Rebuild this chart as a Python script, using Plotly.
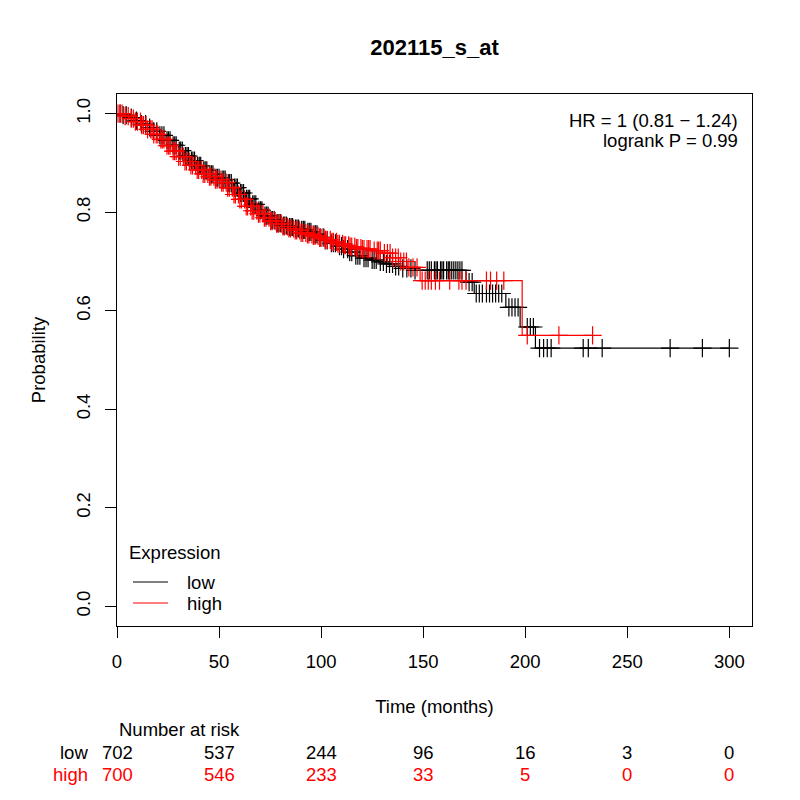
import numpy as np
import plotly.graph_objects as go

# Kaplan-Meier steps (months, survival probability)
low_times = [0, 3, 6, 9, 12, 15, 18, 21, 24, 27, 30, 33, 36, 39, 42, 45, 48, 51, 54, 57,
             60, 63, 66, 69, 72, 75, 78, 81, 84, 87, 90, 93, 96, 99, 102, 105, 108, 111, 114, 117,
             120, 124, 128, 132, 136, 140, 146, 171, 175, 190.5, 197.5, 205]
low_surv = [1.0, 0.997, 0.992, 0.986, 0.979, 0.972, 0.964, 0.956, 0.946, 0.936,
            0.925, 0.914, 0.905, 0.894, 0.885, 0.877, 0.870, 0.866, 0.859, 0.850,
            0.839, 0.827, 0.816, 0.804, 0.793, 0.784, 0.778, 0.773, 0.770, 0.767,
            0.764, 0.760, 0.755, 0.749, 0.743, 0.737, 0.731, 0.725, 0.719, 0.712,
            0.707, 0.703, 0.699, 0.695, 0.690, 0.686, 0.682, 0.658, 0.635, 0.607, 0.567, 0.524]
low_censor = [1.5, 3, 4.5, 7, 9.5, 12, 14, 16, 18, 19.5, 21, 23, 24.5, 26, 27.5, 29, 30.5, 32,
              33.5, 35, 36.5, 38, 39.5, 41, 42.5, 44, 45.5, 47, 48.5, 50, 51.5, 53, 54.5, 56,
              57.5, 59, 60.5, 62, 63.5, 65, 66.5, 68, 69.5, 71, 72.5, 74, 75.5, 77, 78.5, 80,
              81.5, 83, 84.5, 86, 87.5, 89, 90.5, 92, 93.5, 95, 96.5, 98, 99.5, 101, 103, 105,
              107, 109, 111, 113, 115, 117, 119, 121, 123, 125, 127, 129, 132, 135, 138, 140,
              142, 144, 146, 152, 154, 155.5, 157, 158.5, 160, 161.5, 163, 165, 167, 169,
              172.5, 174, 176, 177.5, 179, 181, 182.5, 184, 185.5, 187, 188.5, 192, 193.5,
              195, 196.5, 201, 202.5, 204, 207, 209, 210.8, 212.7, 228.4, 230.9, 237.7, 271,
              286.8, 300,
              # second pass over the dense band
              22, 25.2, 28.3, 31.2, 34.3, 37.2, 40.3, 43.2, 46.3, 49.2, 52.3, 55.2, 58.3,
              61.2, 64.3, 67.2, 70.3, 73.3, 76.2, 79.3, 82.2, 85.3, 88.2, 91.3, 94.2, 97.3,
              102, 106, 110, 114, 118, 122, 126, 130.5, 133.5, 136.5, 153, 156.3, 159.2, 162.3,
              164, 166, 168]

high_times = [0, 3, 6, 9, 12, 15, 18, 21, 24, 27, 30, 33, 36, 39, 42, 45, 48, 51, 54, 57,
              60, 63, 66, 69, 72, 75, 78, 81, 84, 87, 90, 93, 96, 99, 102, 105, 108, 111, 114, 117,
              120, 125, 130, 134, 138, 142, 148.5, 198.5]
high_surv = [1.0, 0.995, 0.990, 0.984, 0.977, 0.968, 0.958, 0.948, 0.935, 0.924,
             0.913, 0.903, 0.895, 0.886, 0.878, 0.872, 0.866, 0.860, 0.850, 0.836,
             0.826, 0.812, 0.803, 0.797, 0.789, 0.782, 0.777, 0.771, 0.767, 0.763,
             0.758, 0.755, 0.752, 0.748, 0.744, 0.740, 0.736, 0.733, 0.730, 0.727,
             0.725, 0.722, 0.717, 0.708, 0.700, 0.688, 0.661, 0.550]
high_censor = [0.5, 1.5, 2.5, 4, 5.5, 8, 10, 11.5, 13, 15, 16.5, 18, 20, 21.5, 23, 24.5, 26,
               27.5, 29, 31, 32.5, 34, 35.5, 37, 38.5, 40, 41.5, 43, 44.5, 46, 47.5, 49, 50.5,
               52, 53.5, 55, 56.5, 58, 59.5, 61, 62.5, 64, 65.5, 67, 68.5, 70, 71.5, 73, 74.5,
               76, 77.5, 79, 80.5, 82, 83.5, 85, 86.5, 88, 89.5, 91, 92.5, 94, 95.5, 97, 98.5,
               100, 101.5, 103, 104.5, 106, 107.5, 109, 110.5, 112, 113.5, 115, 116.5, 118,
               119.5, 121, 122.5, 124, 126, 127.5, 129, 131, 132.5, 135, 136.5, 139, 140.5,
               143, 145, 147, 149.5, 151, 152.5, 154, 156, 158, 163, 167.5, 169, 171, 181,
               183, 186, 189.5, 201, 216.5, 233,
               # second pass over the dense band
               7, 9, 12.2, 14.2, 17.2, 19.2, 22.2, 25.3, 28.2, 30.2, 33.3, 36.2, 39.3, 42.2,
               45.3, 48.2, 51.3, 54.2, 57.3, 60.2, 63.3, 66.2, 69.3, 72.2, 75.3, 78.2, 81.3,
               84.2, 87.3, 90.2, 93.3, 96.2, 99.3, 102.2, 105.3, 108.2, 111.3, 114.2, 117.3,
               120.2, 123.3, 128.2, 133.8, 137.8, 141.8]

risk_times = [0, 50, 100, 150, 200, 250, 300]
risk_low = [702, 537, 244, 96, 16, 3, 0]
risk_high = [700, 546, 233, 33, 5, 0, 0]

FONT = "Liberation Sans, Arial, sans-serif"
FS = 18.5


def step_value(times, surv, t):
    idx = np.searchsorted(np.array(times), np.array(t), side="right") - 1
    return np.array(surv)[idx]


fig = go.Figure()

groups = [
    ("low", low_times, low_surv, low_censor, "black"),
    ("high", high_times, high_surv, high_censor, "red"),
]
for name, times, surv, cens, color in groups:
    t_end = max(cens)
    fig.add_trace(go.Scatter(
        x=times + [t_end], y=surv + [surv[-1]],
        mode="lines", line_shape="hv",
        line=dict(color=color, width=1.2),
        name=name, hoverinfo="skip", showlegend=False,
    ))
    fig.add_trace(go.Scatter(
        x=cens, y=step_value(times, surv, cens),
        mode="markers",
        marker=dict(symbol="cross-thin", size=13, color=color,
                    line=dict(width=1.2, color=color)),
        showlegend=False, hoverinfo="skip",
    ))

# legend, R style (title + line samples)
fig.add_annotation(text="Expression", xref="paper", yref="paper", x=0.0157, y=0.139,
                   xanchor="left", yanchor="middle", showarrow=False)
for (name, *_, color), ly in zip(groups, [0.0827, 0.0432]):
    fig.add_shape(type="line", xref="paper", yref="paper", x0=0.0252, x1=0.0803,
                  y0=ly, y1=ly, line=dict(color=color, width=1.2))
    fig.add_annotation(text=name, xref="paper", yref="paper", x=0.107, y=ly,
                       xanchor="left", yanchor="middle", showarrow=False)

# HR / logrank text
fig.add_annotation(text="HR = 1 (0.81 \u2212 1.24)", xref="paper", yref="paper",
                   x=0.981, y=0.951, xanchor="right", yanchor="middle", showarrow=False)
fig.add_annotation(text="logrank P = 0.99", xref="paper", yref="paper",
                   x=0.981, y=0.912, xanchor="right", yanchor="middle", showarrow=False)

# number at risk table
fig.add_annotation(text="Number at risk", xref="x", yref="paper", x=0, y=-0.195,
                   xanchor="left", yanchor="middle", showarrow=False)
fig.add_annotation(text="low", xref="paper", yref="paper", x=-0.043, y=-0.237,
                   xanchor="right", yanchor="middle", showarrow=False)
fig.add_annotation(text="high", xref="paper", yref="paper", x=-0.043, y=-0.280,
                   xanchor="right", yanchor="middle", showarrow=False,
                   font=dict(color="red"))
for t, n_low, n_high in zip(risk_times, risk_low, risk_high):
    fig.add_annotation(text=str(n_low), xref="x", yref="paper", x=t, y=-0.237,
                       xanchor="center", yanchor="middle", showarrow=False)
    fig.add_annotation(text=str(n_high), xref="x", yref="paper", x=t, y=-0.280,
                       xanchor="center", yanchor="middle", showarrow=False,
                       font=dict(color="red"))

fig.update_xaxes(
    range=[0, 311.1], tickvals=risk_times,
    ticks="outside", ticklen=11, tickcolor="black",
    showline=True, mirror=True, linecolor="black", linewidth=1,
    showgrid=False, zeroline=False, ticklabelstandoff=8,
    title=dict(text="Time (months)", standoff=28, font=dict(size=FS)),
)
fig.update_yaxes(
    range=[-0.04, 1.04], tickvals=[0, 0.2, 0.4, 0.6, 0.8, 1.0],
    ticktext=["0.0", "0.2", "0.4", "0.6", "0.8", "1.0"], tickangle=-90,
    ticks="outside", ticklen=11, tickcolor="black",
    showline=True, mirror=True, linecolor="black", linewidth=1,
    showgrid=False, zeroline=False, ticklabelstandoff=8,
    title=dict(text="Probability", standoff=22, font=dict(size=FS)),
)

# the page puts the figure ~8px in from the top-left corner
fig.update_layout(
    width=800, height=800,
    margin=dict(l=109, r=56, t=86, b=182),
    plot_bgcolor="white", paper_bgcolor="white",
    font=dict(family=FONT, size=FS, color="black"),
    title=dict(text="<b>202115_s_at</b>", x=0.5, xref="paper", xanchor="center",
               y=1 - 39 / 800, yref="container", yanchor="middle",
               font=dict(size=22)),
    showlegend=False,
)

fig.write_html("out.html")
